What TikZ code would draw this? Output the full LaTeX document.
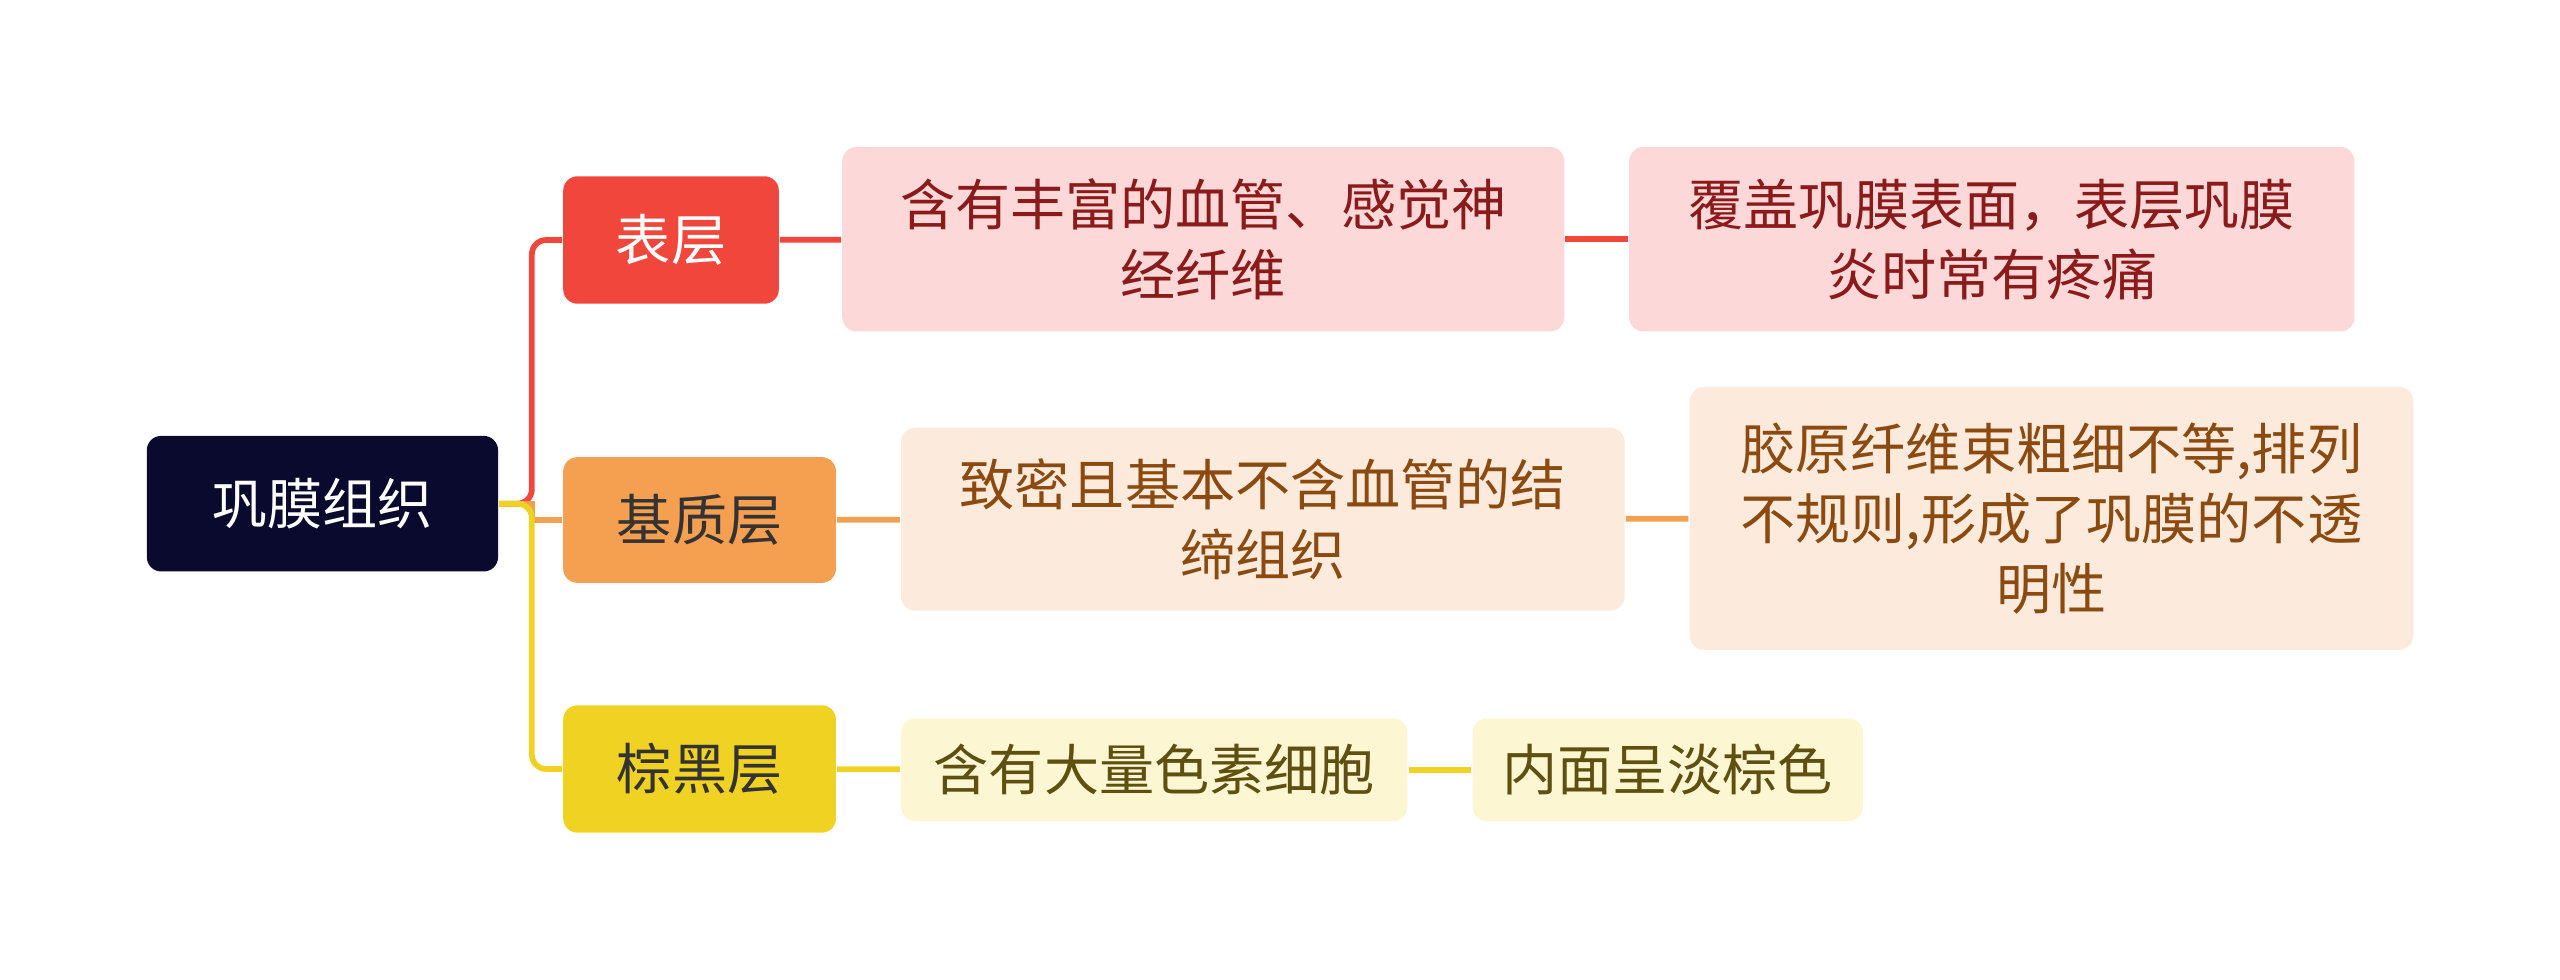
\documentclass[tikz,border=0pt]{standalone}
\usepackage{fontspec}
\setmainfont{Noto Sans CJK SC}
\usetikzlibrary{positioning}
\definecolor{rootc}{HTML}{0A0A2E}
\definecolor{redc}{HTML}{F0463C}
\definecolor{orgc}{HTML}{F4A050}
\definecolor{yelc}{HTML}{F0D222}
\definecolor{redl}{HTML}{FDD8D8}
\definecolor{orgl}{HTML}{FCEBDC}
\definecolor{yell}{HTML}{FCF6D2}
\definecolor{redt}{HTML}{8B1A1A}
\definecolor{orgt}{HTML}{8B4A10}
\definecolor{yelt}{HTML}{5E5010}
\tikzset{
  box/.style={rounded corners=2.5pt, inner sep=0pt, align=center, font=\fontsize{9.6pt}{12.2pt}\selectfont},
  link/.style={line width=1pt}
}
\begin{document}
\begin{tikzpicture}[x=0.01cm, y=-0.01cm]
    % canvas
    \useasboundingbox (0,0) rectangle (1568,600);
    % root
    \node[box, fill=rootc, text=white, minimum width=2.15cm, minimum height=0.83cm] (root) at (197.5,308.5) {巩膜组织};
    % branches
    \node[box, fill=redc, text=white, minimum width=1.32cm, minimum height=0.78cm] (surf) at (411,147) {表层};
    \node[box, fill=orgc, text=black!80, minimum width=1.67cm, minimum height=0.77cm] (stroma) at (428.5,318.5) {基质层};
    \node[box, fill=yelc, text=black!80, minimum width=1.67cm, minimum height=0.78cm] (fusca) at (428.5,471) {棕黑层};
    % leaves
    \node[box, fill=redl, text=redt, minimum width=4.42cm, minimum height=1.13cm] (surfA) at (737,146.5) {含有丰富的血管、感觉神\\经纤维};
    \node[box, fill=redl, text=redt, minimum width=4.44cm, minimum height=1.13cm] (surfB) at (1220,146.5) {覆盖巩膜表面，表层巩膜\\炎时常有疼痛};
    \node[box, fill=orgl, text=orgt, minimum width=4.43cm, minimum height=1.12cm] (stromaA) at (773.5,318) {致密且基本不含血管的结\\缔组织};
    \node[box, fill=orgl, text=orgt, minimum width=4.43cm, minimum height=1.61cm] (stromaB) at (1256.5,317.5) {胶原纤维束粗细不等,排列\\不规则,形成了巩膜的不透\\明性};
    \node[box, fill=yell, text=yelt, minimum width=3.10cm, minimum height=0.63cm] (fuscaA) at (707,471.5) {含有大量色素细胞};
    \node[box, fill=yell, text=yelt, minimum width=2.39cm, minimum height=0.63cm] (fuscaB) at (1021.5,471.5) {内面呈淡棕色};
    % connectors
    \draw[link, redc, rounded corners=2.5pt] (root.east) -- ++(20,0) |- (surf.west);
    \draw[link, orgc] (root.east) -- ++(20,0) |- (stroma.west);
    \draw[link, yelc, rounded corners=2.5pt] (root.east) -- ++(20,0) |- (fusca.west);
    \draw[link, redc] (surf) -- (surfA);
    \draw[link, redc] (surfA) -- (surfB);
    \draw[link, orgc] (stroma) -- (stromaA);
    \draw[link, orgc] (stromaA) -- (stromaB);
    \draw[link, yelc] (fusca) -- (fuscaA);
    \draw[link, yelc] (fuscaA) -- (fuscaB);
\end{tikzpicture}
\end{document}
